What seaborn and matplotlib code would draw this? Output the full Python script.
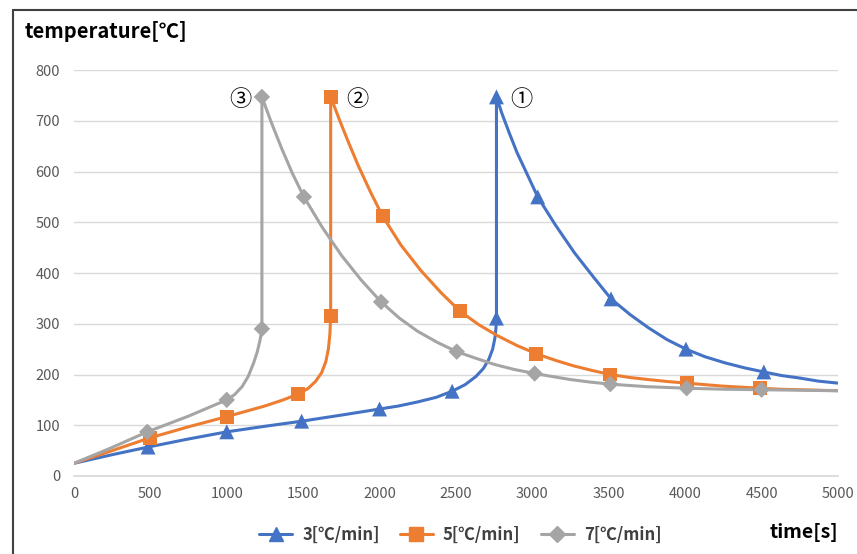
import numpy as np
import pandas as pd
import seaborn as sns
import matplotlib.pyplot as plt
from matplotlib.lines import Line2D

sns.set_theme(style="white")
plt.rcParams["font.family"] = ["Noto Sans CJK KR", "DejaVu Sans"]

# --- data ---
series_names = ["3[℃/min]", "5[℃/min]", "7[℃/min]"]
colors = ["#4472C4", "#ED7D31", "#A5A5A5"]
marker_styles = ["^", "s", "D"]
marker_sizes = [115, 100, 70]
peak_labels = ["①", "②", "③"]
peak_label_t = [2925, 1852, 1086]

# smooth curves
curve3_t = [0, 250, 485, 750, 1000, 1250, 1490, 1750, 2000, 2125, 2250, 2370, 2475, 2560,
            2630, 2680, 2715, 2740, 2755, 2762, 2765, 2765, 2800, 2850, 2900, 2950, 3035,
            3150, 3275, 3400, 3515, 3640, 3760, 3880, 4005, 4130, 4260, 4390, 4515, 4630,
            4750, 4870, 5000]
curve3_T = [25, 42, 57, 73, 87, 98, 108, 120, 132, 138, 146, 155, 167, 180,
            196, 212, 230, 250, 272, 292, 311, 747, 715, 675, 637, 605, 550,
            495, 440, 392, 349, 318, 292, 269, 250, 235, 223, 213, 205, 198,
            193, 187, 183]

curve5_t = [0, 250, 495, 750, 1000, 1250, 1360, 1465, 1530, 1580, 1620, 1648, 1665, 1675,
            1680, 1680, 1740, 1800, 1860, 1940, 2020, 2140, 2270, 2400, 2525, 2650, 2775,
            2900, 3025, 3150, 3270, 3390, 3510, 3640, 3760, 3890, 4010, 4130, 4250, 4370,
            4490, 4620, 4750, 5000]
curve5_T = [25, 50, 75, 97, 117, 138, 149, 161, 172, 186, 203, 225, 250, 280,
            315, 747, 700, 655, 612, 560, 512, 455, 405, 362, 325, 298, 276,
            257, 241, 228, 217, 208, 200, 194, 190, 186, 183, 180, 177, 175,
            173, 171, 170, 168]

curve7_t = [0, 240, 480, 750, 1000, 1050, 1100, 1140, 1175, 1200, 1218, 1230, 1230, 1290,
            1360, 1430, 1505, 1625, 1750, 1880, 2010, 2130, 2250, 2380, 2505, 2630, 2750,
            2880, 3015, 3130, 3250, 3380, 3510, 3750, 4010, 4250, 4500, 4750, 5000]
curve7_T = [25, 55, 87, 118, 150, 160, 176, 196, 222, 245, 268, 290, 747, 698,
            645, 596, 550, 490, 435, 386, 343, 311, 285, 263, 245, 232, 220,
            210, 202, 196, 190, 185, 181, 176, 173, 171, 170, 169, 168]

# marker points
mark3_t = [485, 1000, 1490, 2000, 2475, 2765, 2765, 3035, 3515, 4005, 4515]
mark3_T = [57, 87, 108, 132, 167, 311, 747, 550, 349, 250, 205]
mark5_t = [495, 1000, 1465, 1680, 1680, 2020, 2525, 3025, 3510, 4010, 4490]
mark5_T = [75, 117, 161, 315, 747, 512, 325, 241, 200, 183, 173]
mark7_t = [480, 1000, 1230, 1230, 1505, 2010, 2505, 3015, 3510, 4010, 4500]
mark7_T = [87, 150, 290, 747, 550, 343, 245, 202, 181, 173, 170]

curves = pd.concat([
    pd.DataFrame({"t": curve3_t, "T": curve3_T, "series": series_names[0]}),
    pd.DataFrame({"t": curve5_t, "T": curve5_T, "series": series_names[1]}),
    pd.DataFrame({"t": curve7_t, "T": curve7_T, "series": series_names[2]}),
])
marks = pd.concat([
    pd.DataFrame({"t": mark3_t, "T": mark3_T, "series": series_names[0]}),
    pd.DataFrame({"t": mark5_t, "T": mark5_T, "series": series_names[1]}),
    pd.DataFrame({"t": mark7_t, "T": mark7_T, "series": series_names[2]}),
])

palette = dict(zip(series_names, colors))

fig = plt.figure(figsize=(8.57, 5.54), dpi=100)
ax = fig.add_axes([0.0863, 0.1408, 0.8915, 0.7328])

sns.lineplot(data=curves, x="t", y="T", hue="series", palette=palette,
             sort=False, estimator=None, linewidth=2.2, legend=False, ax=ax, zorder=3)
sns.scatterplot(data=marks, x="t", y="T", hue="series", style="series", size="series",
                palette=palette, markers=dict(zip(series_names, marker_styles)),
                sizes=dict(zip(series_names, marker_sizes)), linewidth=0,
                legend=False, ax=ax, zorder=4)

# peak labels
for lab, tp in zip(peak_labels, peak_label_t):
    ax.text(tp, 741, lab, ha="center", va="center", fontsize=16, fontweight="medium",
            color="black")

ax.set_xlim(0, 5000)
ax.set_ylim(0, 800)
ax.set_xticks(np.arange(0, 5001, 500))
ax.set_yticks(np.arange(0, 801, 100))
ax.grid(axis="y", color="#D9D9D9", linewidth=1)
ax.set_axisbelow(True)
for side in ["top", "right", "left"]:
    ax.spines[side].set_visible(False)
ax.spines["bottom"].set_color("#D9D9D9")
ax.tick_params(axis="both", length=0, labelsize=10.5, labelcolor="#595959")
ax.tick_params(axis="x", pad=8)
ax.tick_params(axis="y", pad=10)
ax.set_xlabel("")
ax.set_ylabel("")

fig.text(25 / 857, 1 - 32 / 554, "temperature[℃]", fontsize=14.5, fontweight="bold",
         ha="left", va="center", color="black")
fig.text(838 / 857, 1 - 532 / 554, "time[s]", fontsize=14, fontweight="bold",
         ha="right", va="center", color="black")

handles = [Line2D([], [], color=c, marker=m, markersize=ms, linewidth=2.2)
           for c, m, ms in zip(colors, marker_styles, [10, 9.5, 8])]
fig.legend(handles, series_names, loc="center", bbox_to_anchor=(0.537, 1 - 535 / 554),
           ncol=3, frameon=False, handlelength=2.0, handletextpad=0.6, columnspacing=1.2,
           labelcolor="#404040", prop={"weight": "bold", "size": 12})

# chart frame (left and top edges)
fig.add_artist(Line2D([13 / 857, 13 / 857], [0, 1 - 10 / 554], color="#404040", linewidth=1.5))
fig.add_artist(Line2D([13 / 857, 1], [1 - 10 / 554, 1 - 10 / 554], color="#404040", linewidth=1.5))

fig.savefig("out.png", dpi=100)
